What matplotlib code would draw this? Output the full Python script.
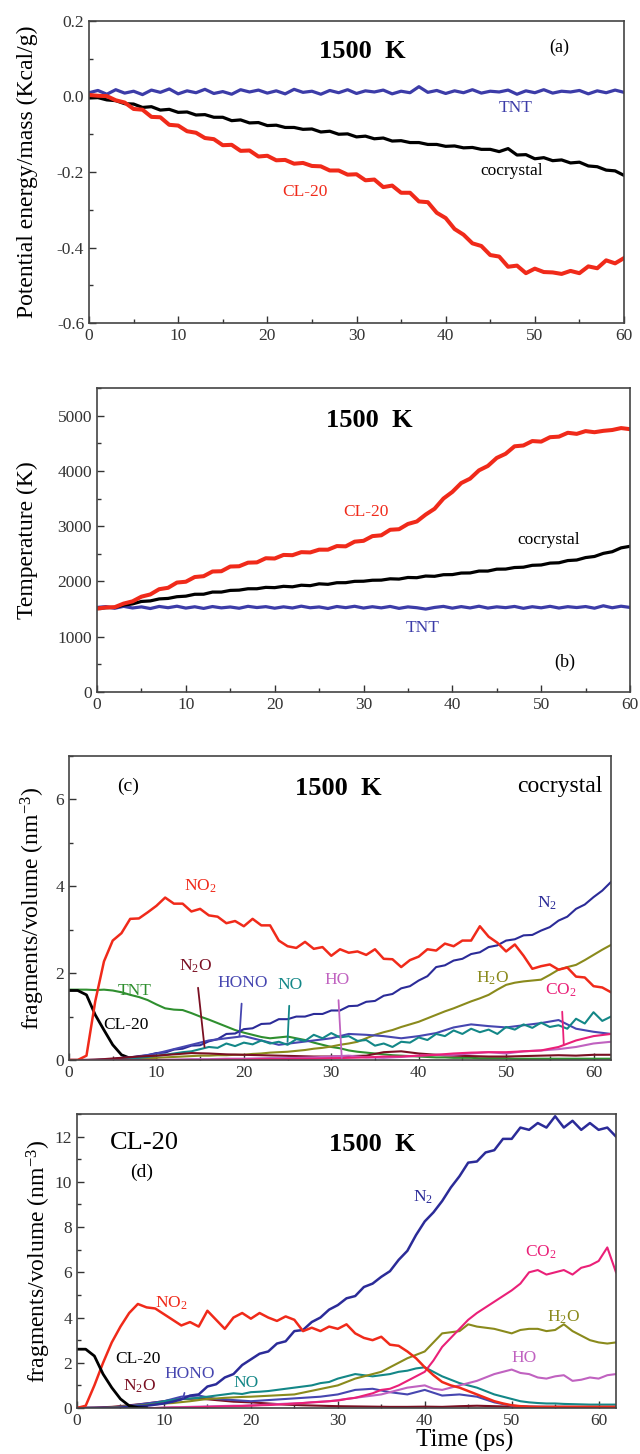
import numpy as np
import matplotlib
matplotlib.use('Agg')
import matplotlib.pyplot as plt
from matplotlib.ticker import MultipleLocator, FormatStrFormatter

plt.rcParams['font.family'] = ['Liberation Serif', 'DejaVu Serif']
plt.rcParams['mathtext.fontset'] = 'custom'
plt.rcParams['mathtext.rm'] = 'Liberation Serif'
plt.rcParams['mathtext.it'] = 'Liberation Serif:italic'
plt.rcParams['mathtext.bf'] = 'Liberation Serif:bold'

# ---------------- panel (a): potential energy / mass ----------------
t_a = list(range(0, 61))
tnt_a = [0.010, 0.016, 0.006, 0.018, 0.009, 0.014, 0.005, 0.017, 0.011, 0.020, 0.007,
         0.015, 0.010, 0.019, 0.008, 0.013, 0.006, 0.018, 0.012, 0.017, 0.009, 0.015,
         0.007, 0.019, 0.011, 0.014, 0.006, 0.016, 0.010, 0.018, 0.008, 0.015, 0.012,
         0.017, 0.007, 0.014, 0.010, 0.026, 0.011, 0.016, 0.008, 0.015, 0.010, 0.018,
         0.009, 0.014, 0.012, 0.017, 0.006, 0.015, 0.010, 0.018, 0.009, 0.014, 0.012,
         0.016, 0.007, 0.015, 0.010, 0.017, 0.011]
cocrystal_a = [-0.004, -0.003, -0.009, -0.011, -0.019, -0.020, -0.029, -0.027, -0.036, -0.034,
               -0.042, -0.041, -0.049, -0.048, -0.055, -0.055, -0.064, -0.062, -0.070, -0.069,
               -0.077, -0.076, -0.082, -0.082, -0.087, -0.086, -0.094, -0.092, -0.100, -0.099,
               -0.107, -0.105, -0.112, -0.110, -0.118, -0.117, -0.122, -0.122, -0.127, -0.127,
               -0.132, -0.131, -0.136, -0.135, -0.140, -0.140, -0.146, -0.138, -0.155, -0.154,
               -0.165, -0.162, -0.170, -0.168, -0.176, -0.174, -0.184, -0.186, -0.195, -0.197,
               -0.209]
cl20_a = [0.004, 0.002, 0.001, -0.010, -0.016, -0.033, -0.035, -0.054, -0.055, -0.075, -0.077,
          -0.092, -0.096, -0.110, -0.113, -0.129, -0.128, -0.144, -0.143, -0.159, -0.157,
          -0.169, -0.168, -0.178, -0.176, -0.184, -0.185, -0.196, -0.196, -0.207, -0.206,
          -0.222, -0.220, -0.240, -0.236, -0.255, -0.255, -0.278, -0.280, -0.308, -0.322,
          -0.351, -0.366, -0.389, -0.396, -0.420, -0.424, -0.451, -0.448, -0.468, -0.456,
          -0.465, -0.466, -0.470, -0.462, -0.468, -0.450, -0.455, -0.434, -0.442, -0.428]

# ---------------- panel (b): temperature ----------------
t_b = list(range(0, 61))
tnt_b = [1530, 1545, 1515, 1550, 1520, 1540, 1510, 1548, 1525, 1552, 1518, 1542, 1512,
         1546, 1522, 1538, 1515, 1550, 1528, 1544, 1516, 1541, 1520, 1553, 1524, 1539,
         1511, 1547, 1526, 1551, 1519, 1543, 1522, 1548, 1513, 1540, 1525, 1500, 1530,
         1549, 1517, 1545, 1521, 1552, 1518, 1541, 1526, 1548, 1514, 1543, 1523, 1550,
         1519, 1544, 1528, 1546, 1516, 1560, 1524, 1552, 1530]
cocrystal_b = [1510, 1525, 1530, 1572, 1594, 1638, 1648, 1684, 1693, 1724, 1734, 1768, 1769,
               1808, 1808, 1838, 1843, 1868, 1868, 1893, 1888, 1912, 1903, 1932, 1924, 1957,
               1948, 1977, 1978, 2002, 2004, 2022, 2024, 2048, 2043, 2072, 2068, 2098, 2093,
               2122, 2124, 2152, 2154, 2188, 2188, 2222, 2224, 2252, 2258, 2292, 2298, 2332,
               2338, 2378, 2388, 2432, 2452, 2508, 2538, 2608, 2636]
cl20_b = [1510, 1530, 1535, 1600, 1640, 1725, 1765, 1860, 1885, 1980, 1995, 2080, 2095,
          2180, 2185, 2270, 2275, 2340, 2345, 2420, 2415, 2480, 2475, 2530, 2525, 2575,
          2575, 2640, 2635, 2720, 2735, 2820, 2835, 2935, 2945, 3040, 3085, 3210, 3315,
          3500, 3620, 3780, 3860, 4010, 4090, 4235, 4310, 4445, 4460, 4540, 4530, 4610,
          4620, 4690, 4670, 4720, 4700, 4725, 4740, 4775, 4755]

# ---------------- panel (c): cocrystal fragments ----------------
t_c = list(range(0, 63))
t_c2 = list(range(0, 63, 2))
t_c_cl20 = list(range(0, 11))
no2_c = [0, 0, 0.1, 1.35, 2.27, 2.75, 2.92, 3.25, 3.26, 3.4, 3.55, 3.74, 3.6, 3.6, 3.42,
         3.48, 3.33, 3.3, 3.15, 3.2, 3.08, 3.25, 3.1, 3.1, 2.75, 2.62, 2.58, 2.72, 2.56,
         2.6, 2.4, 2.55, 2.47, 2.5, 2.42, 2.55, 2.33, 2.32, 2.14, 2.3, 2.38, 2.55, 2.52,
         2.68, 2.62, 2.75, 2.75, 3.08, 2.84, 2.7, 2.5, 2.66, 2.4, 2.1, 2.16, 2.2, 2.08,
         2.13, 1.92, 1.9, 1.7, 1.67, 1.56]
n2_c = [0, 0, 0, 0, 0.01, 0.02, 0.05, 0.06, 0.09, 0.11, 0.16, 0.17, 0.24, 0.26, 0.33, 0.34,
        0.43, 0.48, 0.6, 0.61, 0.71, 0.73, 0.83, 0.84, 0.94, 0.94, 1.0, 1.0, 1.06, 1.06,
        1.14, 1.14, 1.24, 1.25, 1.34, 1.36, 1.48, 1.52, 1.65, 1.7, 1.83, 1.93, 2.14, 2.18,
        2.29, 2.33, 2.44, 2.48, 2.6, 2.64, 2.75, 2.78, 2.87, 2.88, 2.98, 3.06, 3.21, 3.3,
        3.48, 3.58, 3.75, 3.9, 4.1]
h2o_c = [0, 0, 0, 0, 0, 0, 0.01, 0.02, 0.03, 0.04, 0.05, 0.06, 0.07, 0.08, 0.09, 0.1, 0.1,
         0.11, 0.11, 0.12, 0.12, 0.14, 0.15, 0.17, 0.18, 0.19, 0.21, 0.23, 0.26, 0.28, 0.31,
         0.35, 0.38, 0.42, 0.5, 0.58, 0.64, 0.69, 0.76, 0.82, 0.88, 0.96, 1.04, 1.12, 1.19,
         1.27, 1.35, 1.42, 1.5, 1.62, 1.73, 1.78, 1.81, 1.83, 1.85, 1.96, 2.08, 2.14, 2.19,
         2.3, 2.42, 2.54, 2.65]
tnt_c = [1.62, 1.62, 1.62, 1.61, 1.62, 1.6, 1.56, 1.5, 1.45, 1.38, 1.28, 1.19, 1.16, 1.15,
         1.08, 1.0, 0.93, 0.85, 0.77, 0.69, 0.63, 0.58, 0.53, 0.5, 0.52, 0.54, 0.5, 0.46,
         0.4, 0.35, 0.3, 0.27, 0.22, 0.19, 0.17, 0.15, 0.13, 0.11, 0.1, 0.09, 0.08, 0.07,
         0.06, 0.06, 0.05, 0.05, 0.05, 0.04, 0.04, 0.04, 0.04, 0.03, 0.03, 0.03, 0.03, 0.03,
         0.03, 0.03, 0.03, 0.03, 0.03, 0.03, 0.03]
cl20_c = [1.6, 1.6, 1.5, 1.04, 0.69, 0.35, 0.12, 0.04, 0.02, 0.01, 0.0]
no_c = [0, 0, 0, 0, 0, 0.01, 0.02, 0.03, 0.05, 0.07, 0.1, 0.12, 0.15, 0.18, 0.2, 0.25, 0.3,
        0.28, 0.38, 0.32, 0.4, 0.36, 0.45, 0.38, 0.42, 0.35, 0.48, 0.44, 0.58, 0.5, 0.62,
        0.52, 0.55, 0.44, 0.46, 0.33, 0.38, 0.3, 0.42, 0.4, 0.52, 0.46, 0.6, 0.55, 0.68,
        0.6, 0.72, 0.64, 0.7, 0.6, 0.76, 0.7, 0.82, 0.74, 0.86, 0.76, 0.8, 0.72, 0.95, 0.84,
        1.1, 0.9, 1.0]
hono_c = [0, 0, 0, 0.02, 0.08, 0.15, 0.25, 0.35, 0.45, 0.5, 0.55, 0.45, 0.35, 0.4, 0.45,
          0.5, 0.6, 0.58, 0.55, 0.5, 0.55, 0.62, 0.75, 0.82, 0.78, 0.75, 0.8, 0.85, 0.92,
          0.72, 0.65, 0.6]
n2o_c = [0, 0, 0.02, 0.05, 0.08, 0.1, 0.13, 0.16, 0.15, 0.13, 0.12, 0.11, 0.1, 0.09, 0.08,
         0.08, 0.09, 0.1, 0.18, 0.2, 0.15, 0.12, 0.1, 0.09, 0.08, 0.08, 0.09, 0.1, 0.11,
         0.1, 0.12, 0.12]
ho_c = [0, 0, 0, 0, 0, 0, 0.01, 0.02, 0.02, 0.03, 0.03, 0.04, 0.05, 0.05, 0.06, 0.08, 0.1,
        0.06, 0.05, 0.07, 0.1, 0.12, 0.12, 0.15, 0.18, 0.15, 0.2, 0.22, 0.25, 0.3, 0.38, 0.42]
co2_c = [0, 0, 0, 0, 0, 0, 0, 0, 0, 0.01, 0.01, 0.02, 0.02, 0.03, 0.03, 0.04, 0.05, 0.06,
         0.08, 0.08, 0.1, 0.12, 0.15, 0.17, 0.18, 0.18, 0.2, 0.22, 0.3, 0.45, 0.55, 0.6]

# ---------------- panel (d): CL-20 fragments ----------------
t_d = list(range(0, 63))
t_d2 = list(range(0, 63, 2))
t_d_cl20 = list(range(0, 9))
n2_d = [0, 0, 0, 0, 0, 0.02, 0.05, 0.08, 0.1, 0.15, 0.2, 0.28, 0.38, 0.55, 0.6, 0.95, 1.05,
        1.35, 1.5, 1.9, 2.15, 2.4, 2.5, 2.85, 2.95, 3.4, 3.45, 3.8, 4.0, 4.35, 4.55, 4.85,
        4.95, 5.35, 5.5, 5.8, 6.05, 6.55, 6.95, 7.65, 8.25, 8.65, 9.15, 9.75, 10.25, 10.85,
        10.9, 11.3, 11.4, 11.9, 11.9, 12.4, 12.3, 12.6, 12.4, 12.9, 12.4, 12.7, 12.3, 12.6,
        12.3, 12.4, 12.0]
no2_d = [0, 0.1, 1.0, 2.0, 2.9, 3.6, 4.2, 4.6, 4.45, 4.4, 4.15, 3.9, 3.65, 3.8, 3.6, 4.3,
         3.9, 3.5, 4.0, 4.2, 3.95, 4.2, 4.0, 3.85, 4.05, 3.9, 3.4, 3.55, 3.4, 3.6, 3.5, 3.7,
         3.3, 3.1, 3.0, 3.15, 2.8, 2.75, 2.5, 2.2, 1.8, 1.45, 1.15, 1.0, 0.9, 0.75, 0.6,
         0.45, 0.3, 0.2, 0.12, 0.08, 0.06, 0.05, 0.05, 0.05, 0.05, 0.05, 0.05, 0.05, 0.05,
         0.05, 0.05]
cl20_d = [2.6, 2.6, 2.3, 1.5, 0.9, 0.4, 0.1, 0.02, 0.0]
co2_d = [0, 0, 0, 0, 0, 0, 0, 0, 0, 0, 0.01, 0.02, 0.02, 0.03, 0.04, 0.05, 0.06, 0.07, 0.08,
         0.09, 0.1, 0.12, 0.13, 0.15, 0.17, 0.2, 0.22, 0.25, 0.27, 0.3, 0.33, 0.4, 0.45, 0.55,
         0.65, 0.8, 0.85, 1.0, 1.2, 1.4, 1.6, 2.1, 2.7, 3.1, 3.5, 3.9, 4.2, 4.45, 4.7, 4.95,
         5.2, 5.5, 6.0, 6.1, 5.9, 6.0, 6.1, 5.9, 6.2, 6.3, 6.5, 7.1, 6.0]
h2o_d = [0, 0, 0, 0, 0.02, 0.05, 0.08, 0.1, 0.13, 0.16, 0.2, 0.22, 0.26, 0.3, 0.35, 0.4,
         0.42, 0.45, 0.47, 0.49, 0.5, 0.52, 0.54, 0.56, 0.58, 0.6, 0.68, 0.76, 0.84, 0.92,
         1.0, 1.15, 1.3, 1.4, 1.5, 1.6, 1.8, 2.0, 2.2, 2.35, 2.5, 2.9, 3.3, 3.35, 3.4, 3.7,
         3.6, 3.55, 3.5, 3.4, 3.3, 3.45, 3.5, 3.5, 3.4, 3.45, 3.7, 3.4, 3.2, 3.0, 2.9, 2.85,
         2.9]
ho_d = [0, 0, 0, 0, 0, 0, 0, 0, 0, 0, 0.02, 0.03, 0.04, 0.05, 0.06, 0.07, 0.08, 0.09, 0.1,
        0.1, 0.12, 0.13, 0.15, 0.17, 0.19, 0.2, 0.22, 0.25, 0.28, 0.3, 0.35, 0.4, 0.45, 0.5,
        0.55, 0.6, 0.7, 0.8, 0.9, 0.95, 1.0, 0.85, 0.8, 0.9, 1.0, 1.1, 1.2, 1.35, 1.5, 1.6,
        1.7, 1.55, 1.5, 1.35, 1.3, 1.4, 1.45, 1.2, 1.25, 1.35, 1.3, 1.45, 1.5]
no_d = [0, 0, 0, 0, 0, 0.02, 0.05, 0.1, 0.15, 0.2, 0.3, 0.35, 0.4, 0.42, 0.45, 0.5, 0.55,
        0.6, 0.65, 0.62, 0.7, 0.72, 0.75, 0.8, 0.85, 0.9, 0.95, 1.0, 1.1, 1.15, 1.3, 1.4,
        1.5, 1.45, 1.4, 1.45, 1.5, 1.6, 1.65, 1.75, 1.8, 1.6, 1.4, 1.25, 1.1, 1.0, 0.9, 0.75,
        0.6, 0.5, 0.4, 0.3, 0.25, 0.22, 0.2, 0.2, 0.18, 0.17, 0.16, 0.15, 0.15, 0.15, 0.15]
hono_d = [0, 0, 0.02, 0.1, 0.2, 0.3, 0.5, 0.55, 0.4, 0.35, 0.3, 0.35, 0.4, 0.45, 0.5, 0.6,
          0.8, 0.85, 0.7, 0.6, 0.8, 0.55, 0.6, 0.5, 0.25, 0.1, 0.06, 0.05, 0.05, 0.04, 0.04,
          0.04]
n2o_d = [0, 0.02, 0.05, 0.12, 0.2, 0.3, 0.4, 0.42, 0.35, 0.28, 0.25, 0.2, 0.15, 0.12, 0.1,
         0.08, 0.07, 0.06, 0.05, 0.05, 0.06, 0.05, 0.08, 0.1, 0.08, 0.06, 0.05, 0.05, 0.05,
         0.05, 0.05, 0.05]

RED = '#f02a1a'
NAVY = '#2b2b98'
TNTB = '#3c3ca8'
TEAL = '#138787'
OLIVE = '#8a8a1c'
GREEN = '#2f8f2f'
MAROON = '#7a0f22'
ORCHID = '#c062c0'
PINK = '#ea2078'
HONOC = '#4646b0'

W, H = 640, 1454
fig = plt.figure(figsize=(W / 100, H / 100), dpi=100)


def make_ax(l, r, t, b):
    return fig.add_axes([l / W, 1 - b / H, (r - l) / W, (b - t) / H])


def style(ax, xmaj, xmin, ymaj, ymin):
    ax.xaxis.set_major_locator(MultipleLocator(xmaj))
    ax.xaxis.set_minor_locator(MultipleLocator(xmin))
    ax.yaxis.set_major_locator(MultipleLocator(ymaj))
    ax.yaxis.set_minor_locator(MultipleLocator(ymin))
    ax.tick_params(which='both', direction='in', top=False, right=False,
                   labelsize=12.5, colors='#333333', width=1.0)
    ax.tick_params(which='major', length=5)
    ax.tick_params(which='minor', length=3)
    for s in ax.spines.values():
        s.set_color('#444444')
        s.set_linewidth(1.2)


lw_big = 2.3
lw = 1.5
lab = 12.5
ylab = 17
title = dict(fontsize=19, fontweight='bold', ha='center', va='center')

# (a)
ax = make_ax(89, 624, 21, 323)
ax.plot(t_a, tnt_a, color=TNTB, lw=lw_big)
ax.plot(t_a, cocrystal_a, color='black', lw=lw_big)
ax.plot(t_a, cl20_a, color=RED, lw=lw_big + 0.6)
ax.set_xlim(0, 60)
ax.set_ylim(-0.6, 0.2)
style(ax, 10, 5, 0.2, 0.1)
ax.yaxis.set_major_formatter(FormatStrFormatter('%.1f'))
ax.set_ylabel('Potential energy/mass (Kcal/g)', fontsize=ylab)
ax.yaxis.set_label_coords(-0.095, 0.5)
ax.text(30.7, 0.118, '1500  K', **title)
ax.text(52.7, 0.131, '(a)', fontsize=13, ha='center', va='center')
ax.text(47.9, -0.031, 'TNT', fontsize=lab, color=TNTB, ha='center', va='center')
ax.text(47.4, -0.198, 'cocrystal', fontsize=lab, color='black', ha='center', va='center')
ax.text(24.2, -0.254, 'CL-20', fontsize=lab, color=RED, ha='center', va='center')

# (b)
ax = make_ax(97, 630, 388, 692)
ax.plot(t_b, tnt_b, color=TNTB, lw=lw_big)
ax.plot(t_b, cocrystal_b, color='black', lw=lw_big)
ax.plot(t_b, cl20_b, color=RED, lw=lw_big + 0.6)
ax.set_xlim(0, 60)
ax.set_ylim(0, 5500)
style(ax, 10, 5, 1000, 500)
ax.set_ylabel('Temperature (K)', fontsize=ylab)
ax.yaxis.set_label_coords(-0.11, 0.5)
ax.text(30.6, 4910, '1500  K', **title)
ax.text(52.6, 531, '(b)', fontsize=13, ha='center', va='center')
ax.text(36.6, 1153, 'TNT', fontsize=lab, color=TNTB, ha='center', va='center')
ax.text(50.8, 2755, 'cocrystal', fontsize=lab, color='black', ha='center', va='center')
ax.text(30.3, 3250, 'CL-20', fontsize=lab, color=RED, ha='center', va='center')

# (c)
ax = make_ax(69, 611, 756, 1060)
ax.plot(t_c, tnt_c, color=GREEN, lw=lw)
ax.plot(t_c_cl20, cl20_c, color='black', lw=2.0)
ax.plot(t_c, h2o_c, color=OLIVE, lw=lw)
ax.plot(t_c, n2_c, color=NAVY, lw=lw)
ax.plot(t_c2, hono_c, color=HONOC, lw=lw)
ax.plot(t_c, no_c, color=TEAL, lw=lw)
ax.plot(t_c2, n2o_c, color=MAROON, lw=lw)
ax.plot(t_c2, ho_c, color=ORCHID, lw=lw)
ax.plot(t_c2, co2_c, color=PINK, lw=lw)
ax.plot(t_c, no2_c, color=RED, lw=lw + 0.3)
ax.set_xlim(0, 62)
ax.set_ylim(0, 7)
style(ax, 10, 5, 2, 1)
ax.set_ylabel('fragments/volume (nm$^{-3}$)', fontsize=ylab)
ax.yaxis.set_label_coords(-0.04, 0.5)
ax.text(6.8, 6.3, '(c)', fontsize=14, ha='center', va='center')
ax.text(30.8, 6.25, '1500  K', **title)
ax.text(61, 6.3, 'cocrystal', fontsize=17, ha='right', va='center')
ax.text(15, 4.0, 'NO$_2$', fontsize=lab, color=RED, ha='center', va='center')
ax.text(54.7, 3.6, 'N$_2$', fontsize=lab, color=NAVY, ha='center', va='center')
ax.text(48.4, 1.88, 'H$_2$O', fontsize=lab, color=OLIVE, ha='center', va='center')
ax.text(7.5, 1.58, 'TNT', fontsize=lab, color=GREEN, ha='center', va='center')
ax.text(6.5, 0.8, 'CL-20', fontsize=lab, color='black', ha='center', va='center')
leaders_c = [('N$_2$O', MAROON, (14.5, 2.15), (15.5, 0.3)),
             ('HONO', HONOC, (19.9, 1.77), (19.5, 0.55)),
             ('NO', TEAL, (25.3, 1.72), (25.0, 0.42)),
             ('HO', ORCHID, (30.7, 1.85), (31.2, 0.05)),
             ('CO$_2$', PINK, (56.3, 1.6), (56.6, 0.35))]
for txt, col, xytext, xy in leaders_c:
    ax.annotate(txt, xy=xy, xytext=xytext, fontsize=lab, color=col, ha='center', va='center',
                arrowprops=dict(arrowstyle='-', color=col, lw=1.3, shrinkA=7, shrinkB=0))

# (d)
ax = make_ax(77, 616, 1114, 1408)
ax.plot(t_d2, n2o_d, color=MAROON, lw=lw)
ax.plot(t_d2, hono_d, color=HONOC, lw=lw)
ax.plot(t_d, no_d, color=TEAL, lw=lw)
ax.plot(t_d, ho_d, color=ORCHID, lw=lw)
ax.plot(t_d, h2o_d, color=OLIVE, lw=lw)
ax.plot(t_d, co2_d, color=PINK, lw=lw)
ax.plot(t_d, n2_d, color=NAVY, lw=lw + 0.3)
ax.plot(t_d, no2_d, color=RED, lw=lw + 0.3)
ax.plot(t_d_cl20, cl20_d, color='black', lw=2.0)
ax.set_xlim(0, 62)
ax.set_ylim(0, 13)
style(ax, 10, 5, 2, 1)
ax.set_ylabel('fragments/volume (nm$^{-3}$)', fontsize=ylab)
ax.yaxis.set_label_coords(-0.045, 0.5)
ax.text(7.7, 11.7, 'CL-20', fontsize=19, ha='center', va='center')
ax.text(7.4, 10.4, '(d)', fontsize=14, ha='center', va='center')
ax.text(34, 11.66, '1500  K', **title)
ax.text(39.8, 9.3, 'N$_2$', fontsize=lab, color=NAVY, ha='center', va='center')
ax.text(53.3, 6.9, 'CO$_2$', fontsize=lab, color=PINK, ha='center', va='center')
ax.text(56, 4.0, 'H$_2$O', fontsize=lab, color=OLIVE, ha='center', va='center')
ax.text(51.4, 2.2, 'HO', fontsize=lab, color=ORCHID, ha='center', va='center')
ax.text(10.9, 4.65, 'NO$_2$', fontsize=lab, color=RED, ha='center', va='center')
ax.text(7.0, 2.15, 'CL-20', fontsize=lab, color='black', ha='center', va='center')
ax.text(7.2, 0.96, 'N$_2$O', fontsize=lab, color=MAROON, ha='center', va='center')
ax.text(19.5, 1.1, 'NO', fontsize=lab, color=TEAL, ha='center', va='center')
ax.annotate('HONO', xy=(12.2, 0.45), xytext=(13.0, 1.5), fontsize=lab, color=HONOC,
            ha='center', va='center',
            arrowprops=dict(arrowstyle='-', color=HONOC, lw=1.2, shrinkA=6, shrinkB=0))
fig.text(465 / W, 1 - 1440 / H, 'Time (ps)', fontsize=18, ha='center', va='center')

fig.savefig('out.png', dpi=100)
